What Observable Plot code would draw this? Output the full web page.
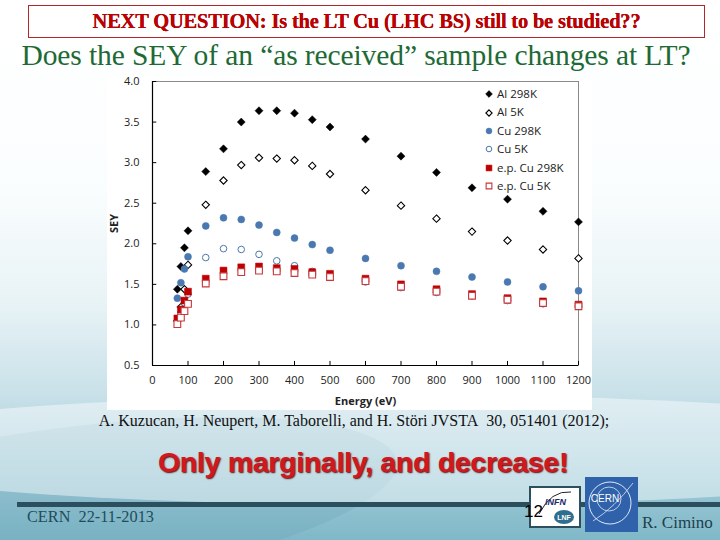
<!DOCTYPE html>
<html><head><meta charset="utf-8">
<script src="https://cdn.jsdelivr.net/npm/d3@7"></script>
<script src="https://cdn.jsdelivr.net/npm/@observablehq/plot@0.6"></script>
<style>
html,body{margin:0;padding:0;}
body{width:720px;height:540px;position:relative;overflow:hidden;
 background:linear-gradient(180deg,#ffffff 0%,#fafdfe 35%,#e8f3f6 56%,#cbe2ea 72%,#a5cedb 86%,#80b8c8 100%);
 font-family:"Liberation Serif",serif;}
.abs{position:absolute;}
#wave1{left:-200px;top:395px;width:1200px;height:110px;border-radius:50%;background:rgba(255,255,255,0.45);}
#wave2{left:-300px;top:430px;width:700px;height:160px;border-radius:50%;background:rgba(90,150,170,0.18);transform:rotate(-8deg);}
#topbox{left:28px;top:5px;width:675px;height:31px;border:1px solid #b3262a;background:#fff;text-align:center;}
#topbox span{font:bold 20.5px "Liberation Serif",serif;color:#c00000;line-height:31px;letter-spacing:-0.2px;text-shadow:0 0 0.6px #600;}
#sub{left:0;top:39px;width:712px;text-align:center;font:29.5px "Liberation Serif",serif;color:#1e6a35;letter-spacing:-0.1px;}
#chart{left:107px;top:75px;}
#legend{left:484px;top:85px;font:11.5px "Open Sans",sans-serif;color:#222;}
#legend div{height:18.4px;line-height:18.4px;display:flex;align-items:center;}
#legend svg{margin-right:3px;}
#cite{left:0;top:412px;width:708px;text-align:center;font:16px "Liberation Serif",serif;color:#111;}
#only{left:0;top:446px;width:726px;text-align:center;font:bold 28.5px "Liberation Sans",sans-serif;color:#d3171f;text-shadow:1px 1px 1.5px #5a0a0a;letter-spacing:-0.3px;}
#band{left:17px;top:502px;width:703px;height:5px;background:#2c4f5d;}
#cern{left:27px;top:507px;font:16.3px "Liberation Serif",serif;color:#1e4d5c;}
#rc{left:642px;top:513px;font:17px "Liberation Serif",serif;color:#1e3f4d;}
#num{left:524px;top:502px;font:17px "Liberation Sans",sans-serif;color:#000;}
</style></head><body>
<div id="wave2" class="abs"></div>
<div id="wave1" class="abs"></div>
<div id="topbox" class="abs"><span>NEXT QUESTION: Is the LT Cu (LHC BS) still to be studied??</span></div>
<div id="sub" class="abs">Does the SEY of an “as received” sample changes at LT?</div>
<div id="chart" class="abs"></div>
<div id="legend" class="abs"></div>
<div id="cite" class="abs">A. Kuzucan, H. Neupert, M. Taborelli, and H. Störi JVSTA&nbsp; 30, 051401 (2012);</div>
<div id="only" class="abs">Only marginally, and decrease!</div>
<div id="band" class="abs"></div>
<div class="abs" style="left:529px;top:486px;width:52px;height:42px;background:#2c4f5d;"></div>
<svg class="abs" style="left:531px;top:488px" width="48" height="38">
  <rect width="48" height="38" fill="#fff"/>
  <path d="M8 26 Q20 2 40 4" fill="none" stroke="#222" stroke-width="1"/>
  <text x="14" y="17" font-family="Liberation Sans" font-style="italic" font-weight="bold" font-size="9" fill="#1a2a6a">INFN</text>
  <ellipse cx="33" cy="29" rx="10" ry="7" fill="#2e6e8e"/>
  <text x="33" y="32" text-anchor="middle" font-family="Liberation Sans" font-weight="bold" font-size="7" fill="#fff">LNF</text>
</svg>
<svg class="abs" style="left:585px;top:477px" width="53" height="55">
  <rect width="53" height="55" fill="#2f62ab"/>
  <circle cx="25" cy="26" r="21" fill="none" stroke="#dfe8f5" stroke-width="1"/>
  <circle cx="24" cy="22" r="12" fill="none" stroke="#dfe8f5" stroke-width="0.8"/>
  <path d="M8 44 Q30 30 48 6" fill="none" stroke="#dfe8f5" stroke-width="0.8"/>
  <text x="20" y="25" text-anchor="middle" font-family="Liberation Sans" font-size="10" fill="#fff">CERN</text>
</svg>
<div id="num" class="abs">12</div>
<div id="cern" class="abs">CERN&nbsp; 22-11-2013</div>
<div id="rc" class="abs">R. Cimino</div>
<script>
// ---- data ----
const energy = [70,80,90,100,150,200,250,300,350,400,450,500,600,700,800,900,1000,1100,1200];
const al298   = [1.44,1.72,1.95,2.16,2.89,3.17,3.50,3.64,3.64,3.61,3.53,3.44,3.29,3.08,2.88,2.69,2.55,2.40,2.27];
const al5     = [1.05,1.22,1.44,1.74,2.48,2.78,2.97,3.06,3.05,3.03,2.96,2.86,2.66,2.47,2.31,2.15,2.04,1.93,1.82];
const cu298   = [1.33,1.52,1.69,1.84,2.22,2.32,2.30,2.23,2.14,2.07,1.99,1.92,1.82,1.73,1.66,1.59,1.53,1.47,1.42];
const cu5     = [1.05,1.15,1.27,1.38,1.83,1.94,1.93,1.87,1.79,1.73,1.66,1.62,1.53,1.46,1.40,1.36,1.30,1.26,1.23];
const epcu298 = [1.08,1.19,1.30,1.41,1.57,1.67,1.71,1.72,1.70,1.69,1.65,1.63,1.57,1.50,1.44,1.38,1.33,1.29,1.25];
const epcu5   = [1.01,1.09,1.17,1.26,1.51,1.60,1.65,1.67,1.66,1.64,1.62,1.59,1.54,1.47,1.41,1.36,1.31,1.27,1.23];
const seriesNames = ["Al 298K","Al 5K","Cu 298K","Cu 5K","e.p. Cu 298K","e.p. Cu 5K"];
const seriesValues = [al298, al5, cu298, cu5, epcu298, epcu5];
const xTicks = [0,100,200,300,400,500,600,700,800,900,1000,1100,1200];
const yTicks = [0.5,1.0,1.5,2.0,2.5,3.0,3.5,4.0];

// ---- styles ----
const styles = [
  {symbol:"diamond2", r:3.6, fill:"#000", stroke:"#000", sw:0.5},
  {symbol:"diamond2", r:3.3, fill:"#fff", stroke:"#000", sw:1.1},
  {symbol:"circle",   r:3.5, fill:"#4a78b0", stroke:"#4a78b0", sw:0.5},
  {symbol:"circle",   r:3.3, fill:"#fff", stroke:"#4a78b0", sw:1},
  {symbol:"square",   r:3.9, fill:"#c00000", stroke:"#c00000", sw:0.5},
  {symbol:"square",   r:3.8, fill:"#fff", stroke:"#c8373a", sw:1.1}
];

const rows = seriesNames.map((name,i)=>energy.map((e,j)=>({series:name, energy:e, sey:seriesValues[i][j]})));

const marks = [
  Plot.frame({stroke:"#8a8a8a", strokeWidth:1}),
  Plot.ruleX([0], {stroke:"#000", strokeWidth:1.2}),
  Plot.ruleY([0.5], {stroke:"#000", strokeWidth:1.2}),
  Plot.ruleX(xTicks, {x:d=>d, y1:0.5, y2:0.55, stroke:"#000"}),
  Plot.ruleY(yTicks, {y:d=>d, x1:0, x2:12, stroke:"#000"}),
  Plot.axisX({ticks:xTicks, tickSize:0, tickPadding:11, tickFormat:d=>String(d), label:"Energy (eV)", labelAnchor:"center", labelArrow:"none", labelOffset:39}),
  Plot.axisY({ticks:yTicks, tickSize:0, tickPadding:13, tickFormat:d=>d.toFixed(1), label:"SEY", labelAnchor:"center", labelArrow:"none", labelOffset:42}),
  ...rows.map((data,i)=>Plot.dot(data,{x:"energy", y:"sey", symbol:styles[i].symbol, r:styles[i].r, fill:styles[i].fill, stroke:styles[i].stroke, strokeWidth:styles[i].sw}))
];

const chart = Plot.plot({
  width:485, height:335,
  marginLeft:45, marginRight:14, marginTop:6, marginBottom:45,
  x:{domain:[0,1200]},
  y:{domain:[0.5,4.0]},
  style:{fontFamily:"Open Sans, sans-serif", fontSize:"11px", color:"#222", background:"#fff", overflow:"visible"},
  marks
});
chart.querySelectorAll('[aria-label="x-axis label"] text, [aria-label="y-axis label"] text').forEach(t=>{t.style.fontWeight="bold";});
document.getElementById("chart").appendChild(chart);

// ---- legend ----
const symMap = {diamond2: d3.symbolDiamond2 || d3.symbolDiamond, circle: d3.symbolCircle, square: d3.symbolSquare};
const leg = d3.select("#legend");
seriesNames.forEach((name,i)=>{
  const s = styles[i];
  const row = leg.append("div");
  const svg = row.append("svg").attr("width",10).attr("height",10);
  svg.append("path").attr("transform","translate(5,5)")
    .attr("d", d3.symbol().type(symMap[s.symbol]).size(Math.PI*(s.r*0.85)**2)())
    .attr("fill", s.fill).attr("stroke", s.stroke).attr("stroke-width", s.sw);
  row.append("span").text(name);
});
</script>
</body></html>
